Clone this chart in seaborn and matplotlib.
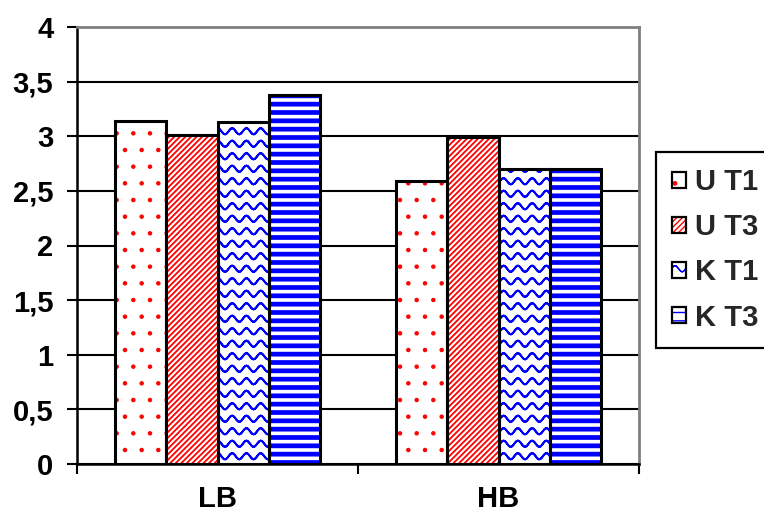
import matplotlib

matplotlib.use("Agg")
import matplotlib.hatch as mhatch
import matplotlib.pyplot as plt
import numpy as np
import pandas as pd
import seaborn as sns
from matplotlib.legend_handler import HandlerTuple
from matplotlib.patches import Patch, Rectangle
from matplotlib.path import Path
from matplotlib.ticker import FixedLocator

groups = ["LB", "HB"]
series = ["U T1", "U T3", "K T1", "K T3"]
lb_values = [3.14, 3.01, 3.13, 3.38]
hb_values = [2.59, 2.99, 2.70, 2.70]
y_ticks = [0, 0.5, 1, 1.5, 2, 2.5, 3, 3.5, 4]
y_labels = ["0", "0,5", "1", "1,5", "2", "2,5", "3", "3,5", "4"]

RED = "#ff0000"
BLUE = "#0000ff"
# hatch, hatch colour, hatch line width
styles = {
    "U T1": (".", RED, 0.8),
    "U T3": ("//////", RED, 1.3),
    "K T1": ("*", BLUE, 1.4),  # '*' is remapped to a wavy pattern below
    "K T3": ("--", BLUE, 3.4),
}
FONT_SIZE = 21


class WaveHatch(mhatch.HatchPatternBase):
    """Wavy horizontal lines, used instead of the star hatch."""

    periods = 7
    segs = 12

    def __init__(self, hatch, density):
        self.num_rows = int(hatch.count("*") * density * 1.4)
        self.num_vertices = self.num_rows * self.periods * self.segs * 2

    def set_vertices_and_codes(self, vertices, codes):
        x = np.linspace(0, 1, self.periods * self.segs + 1)
        n = len(x) - 1
        for r in range(self.num_rows):
            y = (r + 0.5) / self.num_rows + 0.03 * np.sin(2 * np.pi * self.periods * x)
            pts = np.column_stack([x, y])
            chunk = vertices[r * 2 * n:(r + 1) * 2 * n]
            chunk[0::2] = pts[:-1]
            chunk[1::2] = pts[1:]
            c = codes[r * 2 * n:(r + 1) * 2 * n]
            c[0::2] = Path.MOVETO
            c[1::2] = Path.LINETO


mhatch._hatch_types[mhatch._hatch_types.index(mhatch.Stars)] = WaveHatch


def set_hatch_lw(patch, lw):
    # per-patch hatch width: use the setter if there is one, else rc at draw time
    if hasattr(patch, "set_hatch_linewidth"):
        patch.set_hatch_linewidth(lw)
    draw = patch.draw

    def _draw(renderer):
        with plt.rc_context({"hatch.linewidth": lw}):
            draw(renderer)

    patch.draw = _draw


sns.set_theme(style="white")
plt.rcParams["font.family"] = ["Liberation Sans", "DejaVu Sans"]
plt.rcParams["font.weight"] = "bold"

df = pd.DataFrame({
    "group": np.repeat(groups, len(series)),
    "series": series * len(groups),
    "value": lb_values + hb_values,
})

fig = plt.figure(figsize=(7.64, 5.21), dpi=100)
ax = fig.add_axes([77 / 764, 57 / 521, 562 / 764, 437 / 521])

sns.barplot(
    data=df, x="group", y="value", hue="series",
    order=groups, hue_order=series,
    palette={s: "white" for s in series},
    width=0.727, errorbar=None, legend=False, ax=ax,
)

for container, name in zip(ax.containers, series):
    hatch, color, hlw = styles[name]
    for bar in container:
        bar.set_facecolor("white")
        bar.set_edgecolor(color)
        bar.set_linewidth(0)
        bar.set_hatch(hatch)
        set_hatch_lw(bar, hlw)
        ax.add_patch(Rectangle(bar.get_xy(), bar.get_width(), bar.get_height(),
                               fill=False, edgecolor="black", linewidth=2.2, zorder=3))

ax.set_xlim(-0.5, 1.5)
ax.set_ylim(0, 4)
ax.set_yticks(y_ticks, labels=y_labels)
ax.set_xticks([0, 1], labels=groups)
ax.xaxis.set_minor_locator(FixedLocator([-0.5, 0.5, 1.5]))
ax.set_xlabel("")
ax.set_ylabel("")

ax.set_axisbelow(True)
ax.yaxis.grid(True, color="black", linewidth=1.5)
ax.xaxis.grid(False)
for side in ["left", "bottom"]:
    ax.spines[side].set_color("black")
    ax.spines[side].set_linewidth(1.8)
for side in ["top", "right"]:
    ax.spines[side].set_color("#808080")
    ax.spines[side].set_linewidth(2.0)

ax.tick_params(axis="y", length=7, width=1.5, pad=10, labelsize=FONT_SIZE, color="black",
               left=True, direction="out")
ax.tick_params(axis="x", which="major", length=0, pad=15, labelsize=FONT_SIZE)
ax.tick_params(axis="x", which="minor", length=7, width=1.5, color="black",
               bottom=True, direction="out")
for lbl in ax.get_xticklabels() + ax.get_yticklabels():
    lbl.set_fontweight("bold")
    lbl.set_color("black")

handles = []
for name in series:
    hatch, color, hlw = styles[name]
    fill = Patch(facecolor="white", edgecolor=color, linewidth=0, hatch=hatch)
    set_hatch_lw(fill, hlw)
    edge = Patch(facecolor="none", edgecolor="black", linewidth=1.6)
    handles.append((fill, edge))

leg = fig.legend(
    handles, series, handler_map={tuple: HandlerTuple()},
    loc="upper left", bbox_to_anchor=(656 / 764, 1 - 152 / 521),
    borderaxespad=0, frameon=True, fancybox=False,
    edgecolor="black", framealpha=1, handlelength=0.48, handleheight=0.48,
    handletextpad=0.3, labelspacing=0.59, borderpad=0.55,
    prop={"weight": "bold", "size": FONT_SIZE},
)
leg.get_frame().set_linewidth(1.6)

fig.savefig("out.png", dpi=100)
